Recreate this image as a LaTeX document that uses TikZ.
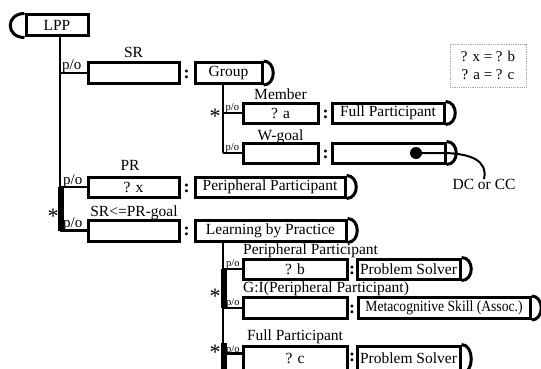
\documentclass[tikz,border=0pt]{standalone}
\usepackage{fontspec}
\setmainfont{Liberation Serif}
\usetikzlibrary{calc}
\newcommand\FMain{\fontsize{15.5}{17}\selectfont}
\newcommand\FPo{\fontsize{15}{15}\selectfont}
\newcommand\FPoS{\fontsize{10.5}{10.5}\selectfont}
\newcommand\FStar{\fontsize{22}{22}\selectfont}
\newcommand\FColon{\fontsize{18}{18}\selectfont\bfseries}
\begin{document}
\begin{tikzpicture}[x=1pt,y=-1pt,
  bx/.style={draw, line width=3pt, rectangle, inner sep=0pt, font=\FMain},
  bxline/.style={line width=3pt},
  trunk/.style={line width=2.7pt},
  thick bar/.style={line width=5.5pt},
  lbl/.style={font=\FMain, inner sep=0pt},
  polabel/.style={font=\FPo, inner sep=0pt, anchor=base west},
  posmall/.style={font=\FPoS, inner sep=0pt, anchor=base west},
  colonmark/.style={font=\FColon, inner sep=0pt},
  starmark/.style={font=\FStar, inner sep=0pt, anchor=base}]
\clip (0,0) rectangle (541,369);
\fill[white] (0,0) rectangle (541,369);
% boxes
\node[bx, minimum width=62, minimum height=21] (lpp) at (57,25.5) {LPP};
\node[bx, minimum width=91, minimum height=21] (sr) at (133.5,73) {};
\node[bx, minimum width=67, minimum height=21] (grp) at (228.5,73) {Group};
\node[bx, minimum width=75, minimum height=20] (mem) at (280.5,113) {? a};
\node[bx, minimum width=112, minimum height=20] (fp) at (388,113) {Full Participant};
\node[bx, minimum width=75, minimum height=20] (wg) at (280.5,153) {};
\node[bx, minimum width=113, minimum height=20] (wv) at (388.5,153) {};
\node[bx, minimum width=91, minimum height=20] (prx) at (133.5,187) {? x};
\node[bx, minimum width=150, minimum height=20] (pp) at (270,187) {Peripheral Participant};
\node[bx, minimum width=91, minimum height=21] (srpg) at (133.5,230.5) {};
\node[bx, minimum width=151, minimum height=21] (lbp) at (270.5,230.5) {Learning by Practice};
\node[bx, minimum width=104, minimum height=20] (qb) at (295,269) {? b};
\node[bx, minimum width=103, minimum height=20] (ps1) at (408.5,269) {Problem Solver};
\node[bx, minimum width=104, minimum height=21] (gi) at (295,308) {};
\node[bx, minimum width=172, minimum height=21] (meta) at (444,308) {\scalebox{0.88}[1]{Metacognitive Skill (Assoc.)}};
\node[bx, minimum width=104, minimum height=26] (qc) at (295,359) {\raisebox{2pt}{? c}};
\node[bx, minimum width=103, minimum height=26] (ps2) at (408.5,359) {\raisebox{2pt}{Problem Solver}};
% caps
\draw[bxline] (lpp.north west) .. controls +(-19,0) and +(-19,0) .. (lpp.south west);
\foreach \b in {grp,fp,wv,pp,lbp,ps1,meta,ps2}{
  \draw[bxline] (\b.north east) .. controls +(13,0) and +(13,0) .. (\b.south east);
}
% role labels
\node[lbl, anchor=base] (lsr) at (133.5,58) {SR};
\node[lbl, anchor=base] (lmem) at (280.5,99.5) {Member};
\node[lbl, anchor=base] (lwg) at (280.5,140) {W-goal};
\node[lbl, anchor=base] (lpr) at (130,170) {PR};
\node[lbl, anchor=base] (lsrpg) at (134,216) {SR<=PR-goal};
\node[lbl, anchor=base west] (lqb) at (243,254.5) {Peripheral Participant};
\node[lbl, anchor=base west] (lgi) at (243,292) {G:I(Peripheral Participant)};
\node[lbl, anchor=base] (lqc) at (295,340) {Full Participant};
% colons
\node[colonmark] (c1) at (186.5,74) {:};
\node[colonmark] (c2) at (325.5,114) {:};
\node[colonmark] (c3) at (325.5,154) {:};
\node[colonmark] (c4) at (186.5,188) {:};
\node[colonmark] (c5) at (186.5,231.5) {:};
\node[colonmark] (c6) at (352,270) {:};
\node[colonmark] (c7) at (352,309) {:};
\node[colonmark] (c8) at (352,357) {:};
% trunk coordinates
\coordinate (j1) at (60,0);
\coordinate (j2) at (223,0);
\coordinate (qcb) at ($(qc.north west)+(0,9)$);
\coordinate (tb) at (223,343);
\coordinate (bot) at (223,372);
% LPP trunk
\draw[trunk] (lpp.south -| j1) -- (srpg.west -| j1);
\draw[thick bar] ([xshift=1pt]prx.west -| j1) -- ([xshift=1pt]srpg.west -| j1);
\draw[trunk] (sr.west -| j1) -- (sr.west);
\draw[trunk] (prx.west -| j1) -- (prx.west);
\draw[trunk] (srpg.west -| j1) -- (srpg.west);
% Group trunk
\draw[trunk] (grp.south -| j2) -- (wg.west -| j2);
\draw[trunk] (mem.west -| j2) -- (mem.west);
\draw[trunk] (wg.west -| j2) -- (wg.west);
% LbP trunk
\draw[trunk] (lbp.south -| j2) -- (bot);
\draw[thick bar] ([xshift=1pt]qb.west -| j2) -- ([xshift=1pt]gi.west -| j2);
\draw[thick bar] ([xshift=1pt]tb) -- ([xshift=1pt]bot);
\draw[trunk] (qb.west -| j2) -- (qb.west);
\draw[trunk] (gi.west -| j2) -- (gi.west);
\draw[trunk] (qcb -| j2) -- (qcb);
% p/o labels
\node[polabel] (p1) at (62,70) {p/o};
\node[polabel] (p2) at (63,184) {p/o};
\node[polabel] (p3) at (63,227.5) {p/o};
\node[posmall] (p4) at (225.5,110.5) {p/o};
\node[posmall] (p5) at (225.5,150.5) {p/o};
\node[posmall] (p6) at (226,266.5) {p/o};
\node[posmall] (p7) at (226,305.5) {p/o};
\node[posmall] (p8) at (226,352.5) {p/o};
% stars
\node[starmark] (s1) at (53,223) {*};
\node[starmark] (s2) at (215,123) {*};
\node[starmark] (s3) at (215,303) {*};
\node[starmark] (s4) at (215,359) {*};
% dot and DC or CC
\node[circle, fill, inner sep=0pt, minimum size=12] (dot) at (416,153) {};
\node[lbl, anchor=north] (dc) at (484,179) {DC or CC};
\draw[line width=2pt] (dot.center) -- (446,153) .. controls (470,154) and (488,160) .. (dc.north);
% legend
\node[draw=gray!70, densely dotted, line width=0.8pt, minimum width=76, minimum height=43,
  align=center, font=\fontsize{15}{18}\selectfont, inner sep=0pt] (leg) at (488,65.5) {? x = ? b\\? a = ? c};
\end{tikzpicture}
\end{document}
